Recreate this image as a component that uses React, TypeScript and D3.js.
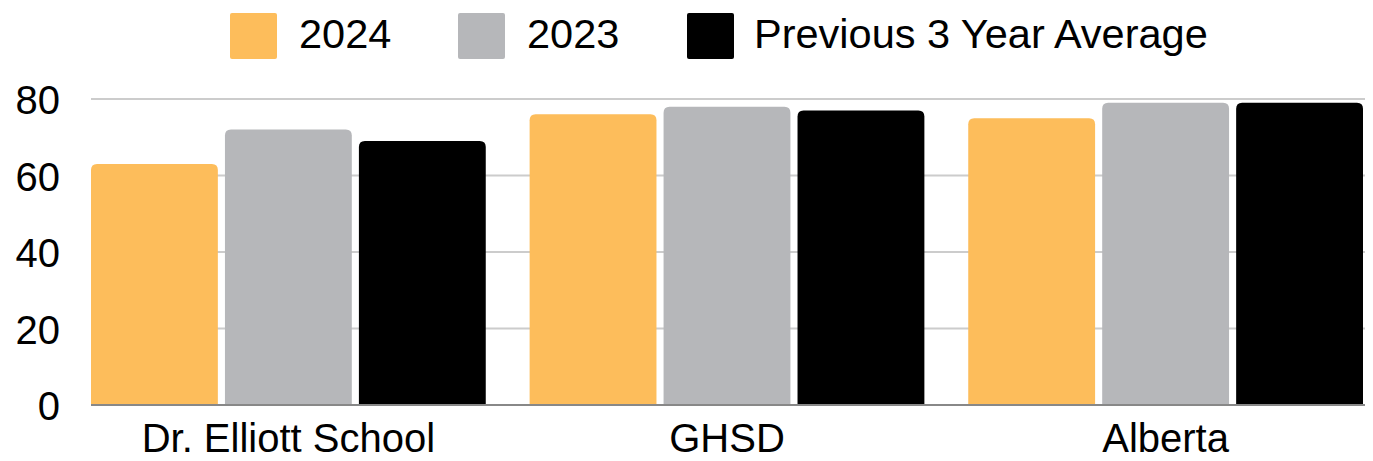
import React from "react";
import * as d3 from "d3";

const categories = ["Dr. Elliott School", "GHSD", "Alberta"];
const seriesNames = ["2024", "2023", "Previous 3 Year Average"];
const values2024 = [63, 76, 75];
const values2023 = [72, 78, 79];
const valuesAvg = [69, 77, 79];
const seriesColors = ["#FDBD5B", "#B6B7BA", "#000000"];
const yTicks = [0, 20, 40, 60, 80];

const W = 1373;
const H = 461;
const margin = { left: 91, right: 10, top: 99, bottom: 56 };

function topRoundedRect(x: number, y: number, w: number, h: number, r: number) {
  const rr = Math.min(r, h, w / 2);
  return `M${x},${y + h}V${y + rr}Q${x},${y} ${x + rr},${y}H${x + w - rr}Q${x + w},${y} ${x + w},${y + rr}V${y + h}Z`;
}

export default function App() {
  const series = [values2024, values2023, valuesAvg];
  const x0 = d3
    .scaleBand<string>()
    .domain(categories)
    .range([margin.left, W - margin.right])
    .paddingInner(0.1)
    .paddingOuter(0);
  const x1 = d3
    .scaleBand<string>()
    .domain(seriesNames)
    .range([0, x0.bandwidth()])
    .paddingInner(0.053)
    .paddingOuter(0);
  const y = d3.scaleLinear().domain([0, 80]).range([H - margin.bottom, margin.top]);

  const legendItems = [
    { x: 230, tx: 299 },
    { x: 458, tx: 527 },
    { x: 687, tx: 754 },
  ];

  const font = "Liberation Sans, Arial, sans-serif";

  return (
    <svg width={W} height={H} style={{ position: "absolute", left: 0, top: 0, background: "#fff" }}>
      <rect x={0} y={0} width={W} height={H} fill="#fff" />
      {/* legend */}
      {seriesNames.map((s, i) => (
        <g key={s}>
          <rect x={legendItems[i].x} y={13} width={47} height={46} rx={2} fill={seriesColors[i]} />
          <text x={legendItems[i].tx} y={48} fontFamily={font} fontSize={41.5} fill="#000">
            {s}
          </text>
        </g>
      ))}
      {/* grid */}
      {yTicks.map((t) => (
        <g key={t}>
          {t > 0 && (
            <line x1={margin.left} x2={W - 8} y1={y(t)} y2={y(t)} stroke="#cccccc" strokeWidth={2} />
          )}
          <text x={60} y={y(t) + 15} textAnchor="end" fontFamily={font} fontSize={40} fill="#000">
            {t}
          </text>
        </g>
      ))}
      {/* bars */}
      {categories.map((c, ci) => (
        <g key={c}>
          {seriesNames.map((s, si) => {
            const bx = (x0(c) ?? 0) + (x1(s) ?? 0);
            const v = series[si][ci];
            const by = y(v);
            return (
              <path
                key={s}
                d={topRoundedRect(bx, by, x1.bandwidth(), y(0) - by, 6)}
                fill={seriesColors[si]}
              />
            );
          })}
          <text
            x={(x0(c) ?? 0) + x0.bandwidth() / 2}
            y={452}
            textAnchor="middle"
            fontFamily={font}
            fontSize={40}
            fill="#000"
          >
            {c}
          </text>
        </g>
      ))}
      <line x1={margin.left} x2={W - 8} y1={y(0)} y2={y(0)} stroke="#888888" strokeWidth={2} />
    </svg>
  );
}
